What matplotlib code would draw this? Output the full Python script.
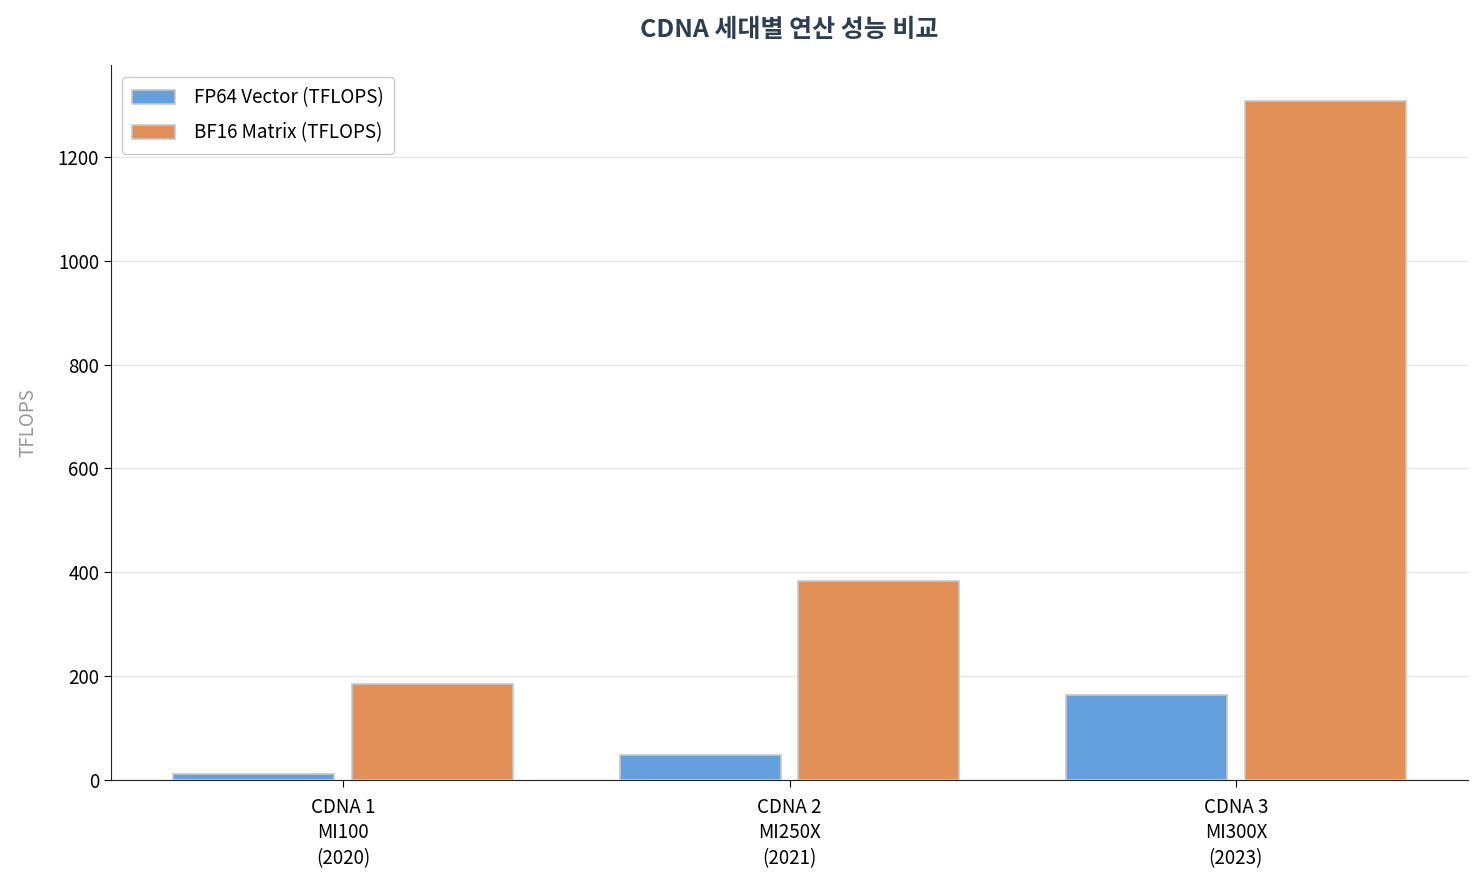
import numpy as np
import matplotlib
matplotlib.use('Agg')
import matplotlib.pyplot as plt

plt.rcParams['font.family'] = ['Noto Sans CJK KR', 'DejaVu Sans']

# Datos
generations = ['CDNA 1\nMI100\n(2020)', 'CDNA 2\nMI250X\n(2021)', 'CDNA 3\nMI300X\n(2023)']
fp64_vector = [11.5, 47.9, 163.4]
bf16_matrix = [184.6, 383.0, 1307.4]

fig = plt.figure(figsize=(14.82, 8.85), dpi=100)
ax = fig.add_axes([111 / 1482, 1 - 780 / 885, (1468 - 111) / 1482, (780 - 65) / 885])

x = np.arange(len(generations))
w = 0.36
ax.bar(x - 0.2, fp64_vector, w, color='#63a0dd', edgecolor='#c8c8c8', linewidth=1.2,
       label='FP64 Vector (TFLOPS)', zorder=3)
ax.bar(x + 0.2, bf16_matrix, w, color='#e38f58', edgecolor='#c8c8c8', linewidth=1.2,
       label='BF16 Matrix (TFLOPS)', zorder=3)

ax.set_xticks(x)
ax.set_xticklabels(generations, fontsize=13.5, linespacing=1.3)
ax.set_xlim(-0.52, 2.52)
ax.set_ylim(0, 1377)
ax.set_yticks([0, 200, 400, 600, 800, 1000, 1200])
ax.tick_params(axis='both', labelsize=13.5, length=5)
ax.tick_params(axis='x', pad=7)
ax.set_ylabel('TFLOPS', fontsize=13.5, color='#999999', labelpad=14)

ax.grid(axis='y', color='#e6e6e6', linewidth=1, zorder=0)
ax.spines['top'].set_visible(False)
ax.spines['right'].set_visible(False)
ax.spines['left'].set_color('#222222')
ax.spines['bottom'].set_color('#222222')

ax.set_title('CDNA 세대별 연산 성능 비교', fontsize=18, fontweight='bold', color='#2c3e50', pad=20)
leg = ax.legend(loc='upper left', fontsize=13.5, framealpha=1, edgecolor='#cccccc',
                borderpad=0.55, labelspacing=0.75, handlelength=2.3, handleheight=0.75,
                handletextpad=1.0, borderaxespad=0, bbox_to_anchor=(0.008, 0.983))

plt.savefig('out.png', dpi=100)
